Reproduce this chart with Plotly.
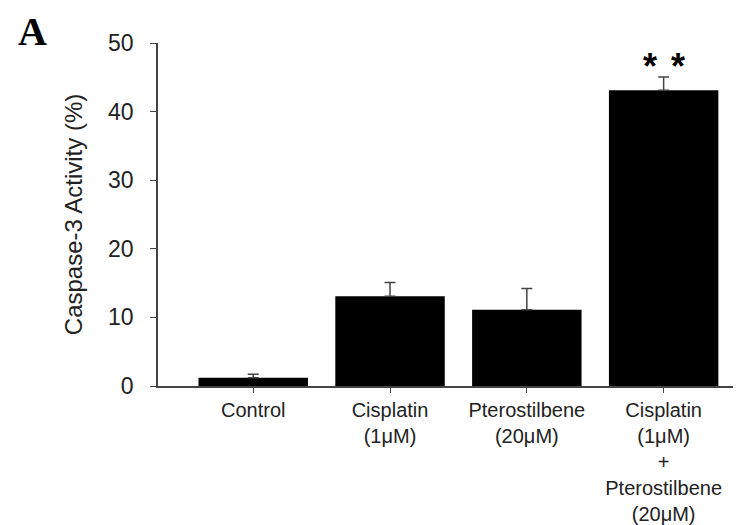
import plotly.graph_objects as go

categories = ["Control", "Cisplatin<br>(1\u03bcM)", "Pterostilbene<br>(20\u03bcM)",
              "Cisplatin<br>(1\u03bcM)<br>+<br>Pterostilbene<br>(20\u03bcM)"]
values = [1.2, 13.1, 11.1, 43.1]
errors = [0.5, 2.0, 3.1, 1.95]
y_ticks = [0, 10, 20, 30, 40, 50]
sig_label = "*"
sig_index = 3

fig = go.Figure()
fig.add_trace(go.Bar(
    x=categories, y=values,
    marker=dict(color="black", line=dict(width=0)),
    error_y=dict(type="data", array=errors, symmetric=False,
                 arrayminus=[0] * len(errors),
                 color="#444444", thickness=1.5, width=5.5),
    width=0.8,
))

for shift in (-14, 14):
    fig.add_annotation(x=categories[sig_index], y=values[sig_index] + errors[sig_index],
                       text=sig_label, showarrow=False, xshift=shift, yshift=-12,
                       yanchor="bottom",
                       font=dict(family="Liberation Sans, Arial", size=36, color="black",
                                 weight="bold"))

fig.add_annotation(text="A", xref="paper", yref="paper", x=-0.219, y=1.033,
                   xanchor="center", yanchor="middle", showarrow=False,
                   font=dict(family="Liberation Serif, Times New Roman", size=40,
                             color="black", weight="bold"))

fig.update_layout(
    width=743, height=517,
    margin=dict(l=150, r=18, t=35, b=139, autoexpand=False),
    plot_bgcolor="white", paper_bgcolor="white",
    showlegend=False,
    font=dict(family="Liberation Sans, Arial", color="#222222"),
)
fig.update_xaxes(
    range=[-0.696, 3.507], showline=True, linecolor="#444444", linewidth=1.5,
    ticks="outside", ticklen=5, tickcolor="#444444", tickwidth=1,
    tickfont=dict(size=20, color="#222222"), showgrid=False, zeroline=False,
    automargin=False,
)
fig.update_yaxes(
    range=[0, 50], tickvals=y_ticks, showline=True, linecolor="#444444", linewidth=1.5,
    ticks="outside", ticklen=6, tickcolor="#444444", tickwidth=1,
    tickfont=dict(size=23, color="#222222"), ticklabelstandoff=12,
    showgrid=False, zeroline=False, automargin=False,
    title=dict(text="Caspase-3 Activity (%)", font=dict(size=24, color="#222222"),
               standoff=19),
)

fig.write_html("out.html")
